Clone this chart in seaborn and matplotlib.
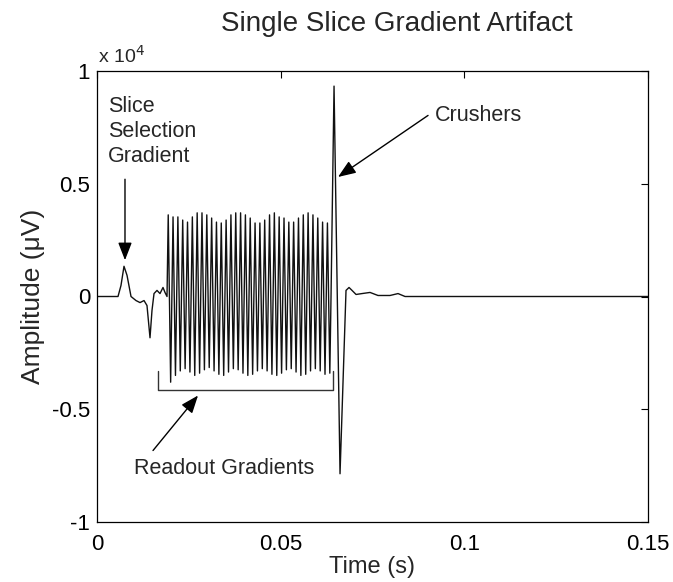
import numpy as np
import pandas as pd
import matplotlib
matplotlib.use("Agg")
import matplotlib.pyplot as plt
import seaborn as sns

# ---- data (time in s, amplitude in microvolts) ----
pre_t = [0.0, 0.00572, 0.00653, 0.00735, 0.00817, 0.00926, 0.01062, 0.01171, 0.01280,
         0.01361, 0.01443, 0.01497, 0.01552, 0.01633, 0.01715, 0.01797, 0.01851, 0.01906]
pre_a = [0, 0, 490, 1340, 940, 0, -180, -270, -180,
         -400, -1830, -620, 130, 270, 130, 400, 180, 0]

readout_peak_t = [0.01939, 0.02070, 0.02202, 0.02333, 0.02464, 0.02596, 0.02727,
                  0.02858, 0.02989, 0.03121, 0.03252, 0.03383, 0.03515, 0.03646,
                  0.03777, 0.03909, 0.04040, 0.04171, 0.04303, 0.04434, 0.04565,
                  0.04697, 0.04828, 0.04959, 0.05091, 0.05222, 0.05353, 0.05485,
                  0.05616, 0.05747, 0.05879, 0.06010, 0.06141, 0.06273]
readout_peak_a = [3620, 3530, 3530, 3390, 3300, 3530, 3710, 3710, 3620, 3480,
                  3300, 3260, 3390, 3620, 3710, 3710, 3620, 3480, 3260, 3260,
                  3390, 3620, 3710, 3530, 3480, 3300, 3300, 3480, 3620, 3710,
                  3620, 3480, 3300, 3260]
readout_trough_t = [0.02005, 0.02136, 0.02267, 0.02399, 0.02530, 0.02661, 0.02793,
                    0.02924, 0.03055, 0.03187, 0.03318, 0.03449, 0.03580, 0.03712,
                    0.03843, 0.03974, 0.04106, 0.04237, 0.04368, 0.04500, 0.04631,
                    0.04762, 0.04894, 0.05025, 0.05156, 0.05288, 0.05419, 0.05550,
                    0.05682, 0.05813, 0.05944, 0.06076, 0.06207, 0.06338]
readout_trough_a = [-3800, -3500, -3300, -3200, -3350, -3500, -3400, -3250, -3150,
                    -3300, -3450, -3500, -3350, -3200, -3250, -3400, -3500, -3450,
                    -3300, -3200, -3300, -3450, -3500, -3400, -3250, -3200, -3350,
                    -3500, -3450, -3300, -3200, -3300, -3450, -3400]

post_t = [0.06371, 0.06453, 0.06616, 0.06779, 0.06861, 0.06943, 0.07052, 0.07215,
          0.07433, 0.07650, 0.07977, 0.08195, 0.08386, 0.15]
post_a = [0, 9330, -7860, 270, 400, 270, 90, 130, 180, 45, 45, 130, 0, 0]

bracket_t = [0.01661, 0.01661, 0.06425, 0.06425]
bracket_a = [-3300, -4150, -4150, -3300]

x_ticks = [0, 0.05, 0.1, 0.15]
x_tick_labels = ["0", "0.05", "0.1", "0.15"]
y_ticks = [-10000, -5000, 0, 5000, 10000]
y_tick_labels = ["-1", "-0.5", "0", "0.5", "1"]

# ---- assemble series ----
ro_t, ro_a = [], []
for pt, pa, tt, ta in zip(readout_peak_t, readout_peak_a, readout_trough_t, readout_trough_a):
    ro_t += [pt, tt]
    ro_a += [pa, ta]
t_all = pre_t + ro_t + post_t
a_all = pre_a + ro_a + post_a
df = pd.DataFrame({"t": t_all, "a": a_all})

sns.set_theme(style="white")
plt.rcParams["font.family"] = ["Liberation Sans", "DejaVu Sans"]

fig = plt.figure(figsize=(6.73, 5.82), dpi=100)
ax = fig.add_axes([97 / 673, 60 / 582, 551 / 673, 451 / 582])

sns.lineplot(data=df, x="t", y="a", sort=False, estimator=None, color="#111111",
             linewidth=1.0, ax=ax)
ax.plot(bracket_t, bracket_a, color="#333333", linewidth=1.0)

ax.set_xlim(0, 0.15)
ax.set_ylim(-10000, 10000)
ax.set_xticks(x_ticks)
ax.set_xticklabels(x_tick_labels)
ax.set_yticks(y_ticks)
ax.set_yticklabels(y_tick_labels)
ax.tick_params(direction="in", length=5, width=0.8, top=True, right=True,
               labelsize=16, colors="black", pad=5)
ax.tick_params(axis="x", pad=9)
for s in ax.spines.values():
    s.set_color("black")
    s.set_linewidth(0.9)

ax.set_xlabel("Time (s)", fontsize=17, labelpad=0)
ax.set_ylabel("Amplitude (μV)", fontsize=19, labelpad=5)

fig.text(397 / 673, 1 - 24 / 582, "Single Slice Gradient Artifact", fontsize=20,
         ha="center", va="center")
ax.text(0.002, 1.01, "x 10$^4$", transform=ax.transAxes, fontsize=14,
        ha="left", va="bottom")

arrow = dict(arrowstyle="-|>,head_length=0.9,head_width=0.35", color="black",
             lw=1.0, shrinkA=0, shrinkB=0)

ax.text(0.00299, 8900, "Slice\nSelection\nGradient", fontsize=15.5, ha="left",
        va="top", linespacing=1.25)
ax.annotate("", xy=(0.00762, 1610), xytext=(0.00762, 5200), arrowprops=arrow)

ax.text(0.09202, 8030, "Crushers", fontsize=15.5, ha="left", va="center")
ax.annotate("", xy=(0.06561, 5300), xytext=(0.09012, 8030), arrowprops=arrow)

ax.text(0.03458, -7630, "Readout Gradients", fontsize=15.5, ha="center", va="center")
ax.annotate("", xy=(0.02750, -4390), xytext=(0.01525, -6830), arrowprops=arrow)

fig.savefig("out.png", dpi=100, facecolor="white")
